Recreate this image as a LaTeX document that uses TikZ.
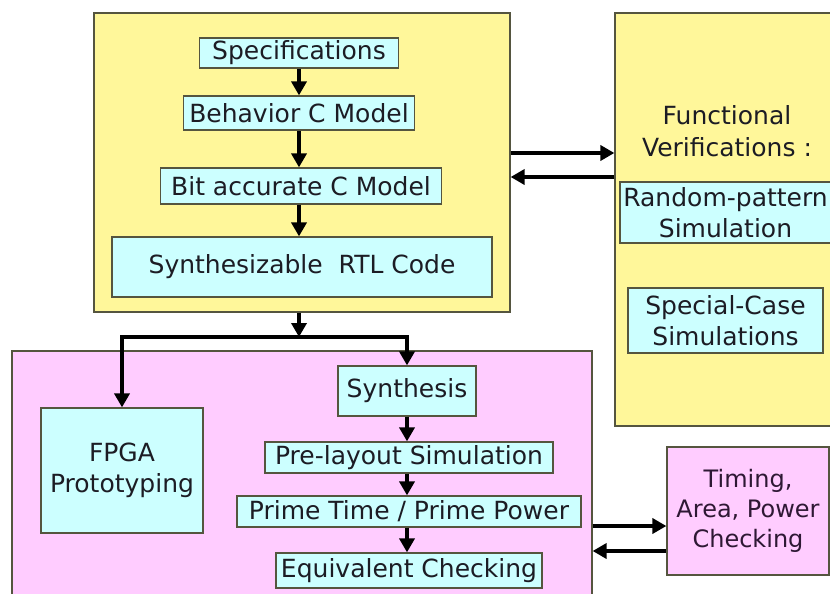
\documentclass[tikz,border=0pt]{standalone}
\usepackage{fontspec}
\setmainfont{DejaVu Sans}
\usetikzlibrary{arrows.meta}

\definecolor{paneyellow}{HTML}{FFF79A}
\definecolor{panepink}{HTML}{FFCCFF}
\definecolor{stepcyan}{HTML}{CCFFFF}
\definecolor{edgegray}{HTML}{55553F}
\definecolor{inkdark}{HTML}{1C1C24}
\definecolor{inkpurple}{HTML}{2E1834}

\tikzset{
  panel/.style={draw=edgegray, line width=1.2pt, inner sep=0pt},
  yellowpanel/.style={panel, fill=paneyellow},
  pinkpanel/.style={panel, fill=panepink},
  stepbox/.style={draw=edgegray, line width=1.2pt, fill=stepcyan, inner sep=0pt,
    text=inkdark, align=center, font=\fontsize{25}{31}\selectfont},
  label/.style={inner sep=0pt, text=inkdark, align=center, font=\fontsize{25}{32}\selectfont},
  flow/.style={line width=4pt, draw=black, -{Triangle[length=14pt,width=15pt]}},
}

\begin{document}
\begin{tikzpicture}[x=1pt, y=-1pt]
  \useasboundingbox (0,0) rectangle (830,594);
  \clip (0,0) rectangle (830,594);
  \fill[white] (0,0) rectangle (830,594);

  % --- design entry panel ---
  \node[yellowpanel, minimum width=416pt, minimum height=299pt] (entry) at (302,162.5) {};
  \node[stepbox, minimum width=199pt, minimum height=30pt] (spec) at (299,53) {Specifications};
  \node[stepbox, minimum width=231pt, minimum height=34pt] (behav) at (299,113) {Behavior C Model};
  \node[stepbox, minimum width=281pt, minimum height=36pt] (bitacc) at (301,186) {Bit accurate C Model};
  \node[stepbox, minimum width=380pt, minimum height=60pt] (rtl) at (302,267) {Synthesizable\ \ RTL Code};

  % --- functional verification panel ---
  \node[yellowpanel, minimum width=225pt, minimum height=413pt] (verif) at (727.5,219.5) {};
  \node[label] (verifttl) at (727,131) {Functional\\Verifications :};
  \node[stepbox, minimum width=211pt, minimum height=61pt] (random) at (725.5,212.5) {Random-pattern\\Simulation};
  \node[stepbox, minimum width=195pt, minimum height=65pt] (special) at (725.5,320.5) {Special-Case\\Simulations};

  % --- implementation panel ---
  \node[pinkpanel, minimum width=580pt, minimum height=259pt] (impl) at (302,480.5) {};
  \node[stepbox, minimum width=162pt, minimum height=125pt] (fpga) at (122,470.5) {FPGA\\Prototyping};
  \node[stepbox, minimum width=138pt, minimum height=50pt] (synth) at (407,391) {Synthesis};
  \node[stepbox, minimum width=288pt, minimum height=31pt] (prelay) at (409,457.5) {Pre-layout Simulation};
  \node[stepbox, minimum width=344pt, minimum height=31pt] (prime) at (409,511.5) {Prime Time / Prime Power};
  \node[stepbox, minimum width=266pt, minimum height=35pt] (equiv) at (409,570.5) {Equivalent Checking};

  % --- timing / area / power panel ---
  \node[pinkpanel, minimum width=162pt, minimum height=128pt, text=inkpurple, align=center,
        font=\fontsize{24}{30}\selectfont] (timing) at (748,511) {Timing,\\Area, Power\\Checking};

  % --- flow inside the entry panel (one vertical axis) ---
  \draw[flow] (spec.south) -- (behav.north -| spec);
  \draw[flow] (behav.south -| spec) -- (bitacc.north -| spec);
  \draw[flow] (bitacc.south -| spec) -- (rtl.north -| spec);

  % --- exchange with functional verification ---
  \coordinate (fwdA) at (0,153);
  \coordinate (bckA) at (0,177);
  \draw[flow] (entry.east |- fwdA) -- (verif.west |- fwdA);
  \draw[flow] (verif.west |- bckA) -- (entry.east |- bckA);

  % --- hand-off to implementation ---
  \coordinate (split) at (299,337);
  \draw[flow] (entry.south -| split) -- (split);
  \draw[flow] (split) -| (fpga.north);
  \draw[flow] (split) -| (synth.north);

  % --- implementation flow ---
  \draw[flow] (synth.south) -- (prelay.north -| synth);
  \draw[flow] (prelay.south -| synth) -- (prime.north -| synth);
  \draw[flow] (prime.south -| synth) -- (equiv.north -| synth);

  % --- exchange with timing checks ---
  \coordinate (fwdB) at (0,526);
  \coordinate (bckB) at (0,551);
  \draw[flow] (impl.east |- fwdB) -- (timing.west |- fwdB);
  \draw[flow] (timing.west |- bckB) -- (impl.east |- bckB);
\end{tikzpicture}
\end{document}
